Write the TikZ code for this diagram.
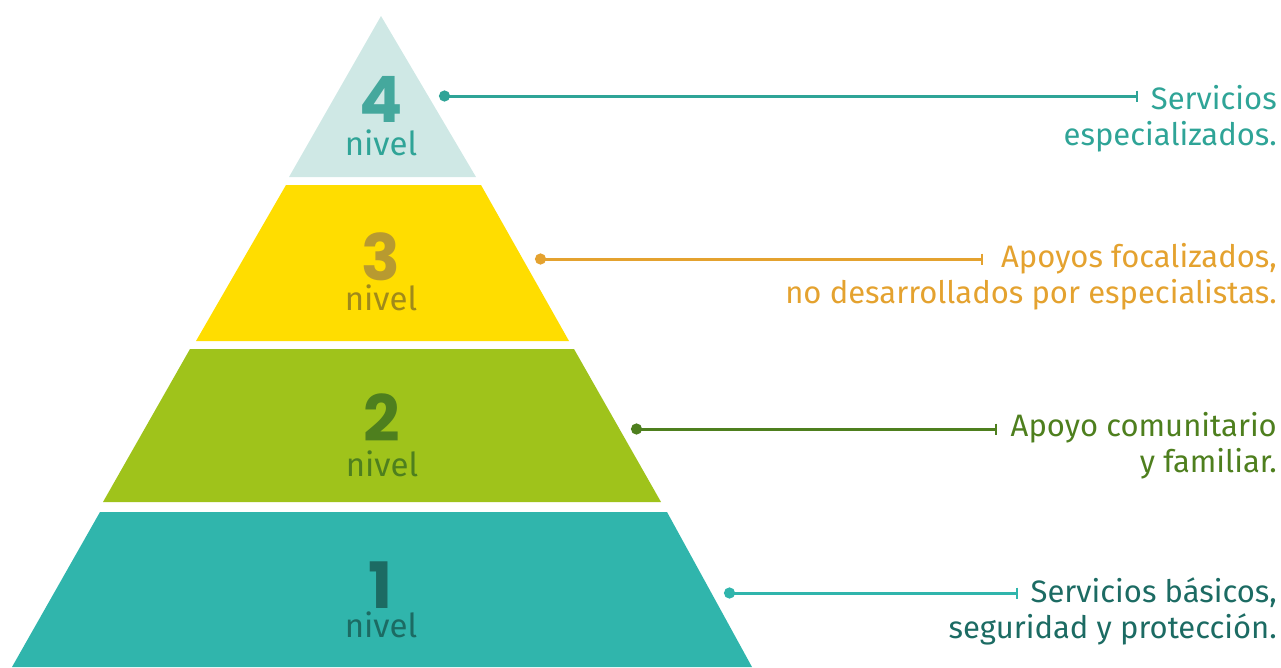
\documentclass[tikz,border=0pt]{standalone}
\usepackage{fontspec}
\setmainfont{Fira Sans}
\newfontfamily\numfont{Poppins}
\usetikzlibrary{arrows.meta}

\definecolor{paleteal}{HTML}{CFE8E5}
\definecolor{sunyellow}{HTML}{FFDD00}
\definecolor{limegreen}{HTML}{9FC31B}
\definecolor{seateal}{HTML}{30B5AC}
\definecolor{numfour}{HTML}{45A89D}
\definecolor{txtfour}{HTML}{2FA497}
\definecolor{numthree}{HTML}{B89A30}
\definecolor{txtthree}{HTML}{A08A1A}
\definecolor{lblthree}{HTML}{E4A22F}
\definecolor{darkgreen}{HTML}{4E7F1E}
\definecolor{darkteal}{HTML}{1C6B63}

\tikzset{
  numtxt/.style={anchor=base, inner sep=0pt, font=\numfont\bfseries\fontsize{64}{64}\selectfont},
  niveltxt/.style={anchor=base, inner sep=0pt, font=\fontsize{33}{33}\selectfont},
  desc/.style={anchor=base east, align=right, inner sep=0pt,
    font=\fontsize{31}{36}\selectfont},
  conn/.style={line width=3pt, {Circle[length=11pt]}-{Bar[width=11pt,line width=1.6pt]}},
}

\begin{document}
\begin{tikzpicture}[x=1pt, y=-1pt]
  \useasboundingbox (0,0) rectangle (1281,667);

  % pyramid tiers
  \fill[paleteal]  (381,16) -- (476,177) -- (289,177) -- cycle;
  \fill[sunyellow] (286,185) -- (481,185) -- (569,341) -- (196,341) -- cycle;
  \fill[limegreen] (190,349) -- (574,349) -- (661,502) -- (103,502) -- cycle;
  \fill[seateal]   (100,512) -- (667,512) -- (752,667) -- (12,667) -- cycle;

  % level numbers
  \node[numtxt, text=numfour]   (num4) at (381,122) {4};
  \node[niveltxt, text=txtfour] (niv4) at (381,155) {nivel};
  \node[numtxt, text=numthree]   (num3) at (381,280) {3};
  \node[niveltxt, text=txtthree] (niv3) at (381,310) {nivel};
  \node[numtxt, text=darkgreen]   (num2) at (382,441) {2};
  \node[niveltxt, text=darkgreen] (niv2) at (382,476) {nivel};
  \node[numtxt, text=darkteal]   (num1) at (381,608) {1};
  \node[niveltxt, text=darkteal] (niv1) at (381,637) {nivel};

  % descriptions (base = last line)
  \node[desc, text=txtfour]  (lbl4) at (1277,145) {Servicios\\especializados.};
  \node[desc, text=lblthree] (lbl3) at (1277,303) {Apoyos focalizados,\\no desarrollados por especialistas.};
  \node[desc, text=darkgreen] (lbl2) at (1277,472) {Apoyo comunitario\\y familiar.};
  \node[desc, text=darkteal] (lbl1) at (1277,638) {Servicios básicos,\\seguridad y protección.};

  % connectors
  \coordinate (dot4) at (439,96);  \coordinate (tick4) at (1138,96);
  \coordinate (dot3) at (535,259); \coordinate (tick3) at (983,259);
  \coordinate (dot2) at (631,429); \coordinate (tick2) at (997,429);
  \coordinate (dot1) at (724,593); \coordinate (tick1) at (1018,593);
  \draw[conn, txtfour]   (dot4) -- (tick4);
  \draw[conn, lblthree]  (dot3) -- (tick3);
  \draw[conn, darkgreen] (dot2) -- (tick2);
  \draw[conn, seateal]   (dot1) -- (tick1);
\end{tikzpicture}
\end{document}
